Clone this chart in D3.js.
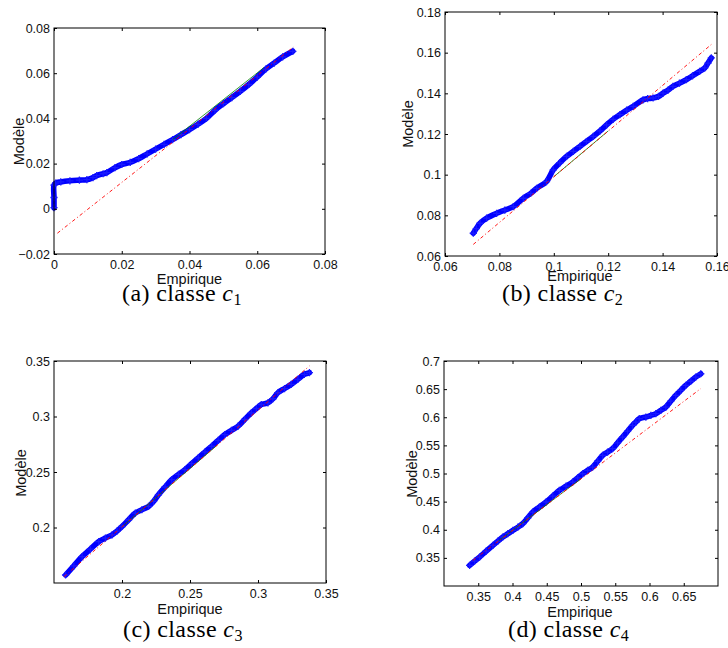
<!DOCTYPE html>
<html>
<head>
<meta charset="utf-8">
<script src="https://cdn.jsdelivr.net/npm/d3@7"></script>
<style>
  html, body { margin: 0; padding: 0; background: #fff; }
  svg { display: block; }
</style>
</head>
<body>
<script>
// ---------------- DATA ----------------
// Panel (a) classe c1
const empA = [0, 0, 0, 0.0005, 0.002, 0.0047, 0.0075, 0.0097, 0.0115, 0.0126, 0.0145, 0.0156, 0.018, 0.02, 0.0225, 0.025, 0.0275, 0.03, 0.0325, 0.035, 0.0375, 0.04, 0.0425, 0.045, 0.0475, 0.05, 0.0525, 0.055, 0.0575, 0.06, 0.0625, 0.065, 0.0675, 0.0705];
const modA = [0.0005, 0.005, 0.0105, 0.0114, 0.0119, 0.0124, 0.0127, 0.0129, 0.0138, 0.0147, 0.0155, 0.016, 0.0182, 0.0196, 0.0205, 0.0222, 0.0243, 0.0264, 0.0285, 0.0306, 0.0328, 0.035, 0.0374, 0.040, 0.0436, 0.0465, 0.0492, 0.052, 0.055, 0.0583, 0.0618, 0.0645, 0.0672, 0.0697];
const refXA = [0.001, 0.0707], refYA = [-0.0108, 0.0716];
const fitXA = [0.035, 0.062], fitYA = [0.0306, 0.0625];
const xTicksA = [0, 0.02, 0.04, 0.06, 0.08], xTickLabelsA = ["0", "0.02", "0.04", "0.06", "0.08"];
const yTicksA = [-0.02, 0, 0.02, 0.04, 0.06, 0.08], yTickLabelsA = ["\u22120.02", "0", "0.02", "0.04", "0.06", "0.08"];

// Panel (b) classe c2
const empB = [0.0704, 0.0715, 0.0729, 0.0753, 0.079, 0.082, 0.0851, 0.0888, 0.0915, 0.0937, 0.0973, 0.0998, 0.1022, 0.1047, 0.1072, 0.1096, 0.112, 0.1145, 0.117, 0.1194, 0.1218, 0.1243, 0.1268, 0.1292, 0.1328, 0.1345, 0.1365, 0.1385, 0.1402, 0.142, 0.1438, 0.1462, 0.1487, 0.151, 0.1536, 0.1555, 0.1567, 0.1579];
const modB = [0.0712, 0.0735, 0.0761, 0.0786, 0.081, 0.0826, 0.0843, 0.0884, 0.0908, 0.0933, 0.0966, 0.1024, 0.1058, 0.109, 0.1115, 0.1139, 0.1163, 0.1188, 0.1215, 0.1245, 0.1272, 0.1295, 0.1317, 0.1336, 0.1368, 0.1374, 0.1377, 0.1385, 0.1401, 0.1416, 0.1434, 0.145, 0.1467, 0.1486, 0.1508, 0.1525, 0.1549, 0.1574];
const refXB = [0.0704, 0.1579], refYB = [0.0657, 0.164];
const fitXB = [0.10, 0.12], fitYB = [0.0990, 0.1215];
const xTicksB = [0.06, 0.08, 0.1, 0.12, 0.14, 0.16], xTickLabelsB = ["0.06", "0.08", "0.1", "0.12", "0.14", "0.16"];
const yTicksB = [0.06, 0.08, 0.1, 0.12, 0.14, 0.16, 0.18], yTickLabelsB = ["0.06", "0.08", "0.1", "0.12", "0.14", "0.16", "0.18"];

// Panel (c) classe c3
const empC = [0.1585, 0.1646, 0.1707, 0.1768, 0.1829, 0.1878, 0.1927, 0.1963, 0.2, 0.2049, 0.2098, 0.2146, 0.2195, 0.2232, 0.2268, 0.2317, 0.2366, 0.2415, 0.2463, 0.2512, 0.2561, 0.261, 0.2659, 0.2707, 0.2756, 0.2805, 0.2854, 0.2902, 0.2951, 0.2988, 0.3024, 0.3073, 0.311, 0.3146, 0.3195, 0.3244, 0.3293, 0.3341, 0.3378];
const modC = [0.1572, 0.1655, 0.1738, 0.1806, 0.1873, 0.1905, 0.1934, 0.1968, 0.2009, 0.207, 0.213, 0.216, 0.219, 0.2235, 0.2295, 0.2365, 0.2431, 0.2478, 0.2521, 0.2575, 0.2627, 0.268, 0.2732, 0.2785, 0.2837, 0.2875, 0.2913, 0.2973, 0.3033, 0.3072, 0.3108, 0.3123, 0.316, 0.3214, 0.3252, 0.3289, 0.3335, 0.338, 0.3395];
const refXC = [0.1573, 0.3378], refYC = [0.1557, 0.3455];
const fitXC = [0.20, 0.27], fitYC = [0.2006, 0.2742];
const xTicksC = [0.2, 0.25, 0.3, 0.35], xTickLabelsC = ["0.2", "0.25", "0.3", "0.35"];
const yTicksC = [0.2, 0.25, 0.3, 0.35], yTickLabelsC = ["0.2", "0.25", "0.3", "0.35"];

// Panel (d) classe c4
const empD = [0.3374, 0.3446, 0.3519, 0.3616, 0.3714, 0.3786, 0.3859, 0.3932, 0.4005, 0.4078, 0.415, 0.4223, 0.4296, 0.4393, 0.449, 0.4587, 0.4684, 0.4782, 0.4879, 0.4952, 0.5024, 0.5097, 0.517, 0.5243, 0.5316, 0.5388, 0.5461, 0.5534, 0.5607, 0.568, 0.5752, 0.5801, 0.585, 0.5947, 0.602, 0.6092, 0.6165, 0.6238, 0.631, 0.6383, 0.6456, 0.6529, 0.6602, 0.6675, 0.6748];
const modD = [0.3367, 0.3441, 0.3515, 0.3619, 0.3723, 0.3797, 0.3871, 0.393, 0.3989, 0.4045, 0.4108, 0.421, 0.4315, 0.4404, 0.4493, 0.4597, 0.470, 0.4774, 0.4848, 0.4922, 0.4996, 0.5055, 0.5115, 0.5218, 0.5322, 0.538, 0.5441, 0.5545, 0.5648, 0.5752, 0.5856, 0.5915, 0.5974, 0.6004, 0.6033, 0.6063, 0.6122, 0.6181, 0.6285, 0.6389, 0.6478, 0.6566, 0.664, 0.6714, 0.6773];
const refXD = [0.3422, 0.6748], refYD = [0.3456, 0.6509];
const fitXD = [0.38, 0.50], fitYD = [0.3805, 0.4907];
const xTicksD = [0.35, 0.4, 0.45, 0.5, 0.55, 0.6, 0.65], xTickLabelsD = ["0.35", "0.4", "0.45", "0.5", "0.55", "0.6", "0.65"];
const yTicksD = [0.35, 0.4, 0.45, 0.5, 0.55, 0.6, 0.65, 0.7], yTickLabelsD = ["0.35", "0.4", "0.45", "0.5", "0.55", "0.6", "0.65", "0.7"];

const xLabel = "Empirique", yLabel = "Modèle";
const captionLetters = ["a", "b", "c", "d"];
const captionSubs = ["1", "2", "3", "4"];

// ---------------- DRAWING ----------------
const W = 728, H = 648;
const svg = d3.select("body").append("svg").attr("width", W).attr("height", H);
svg.append("rect").attr("width", W).attr("height", H).attr("fill", "#fff");

const panels = [
  { emp: empA, mod: modA, refX: refXA, refY: refYA, fitX: fitXA, fitY: fitYA,
    xDomain: [0, 0.08], yDomain: [-0.02, 0.08], xTicks: xTicksA, xLabels: xTickLabelsA, yTicks: yTicksA, yLabels: yTickLabelsA,
    box: [54, 325, 28, 254], xLab: [189.5, 283.5], yLab: [24, 141.5], cap: [122, 301], idx: 0 },
  { emp: empB, mod: modB, refX: refXB, refY: refYB, fitX: fitXB, fitY: fitYB,
    xDomain: [0.06, 0.16], yDomain: [0.06, 0.18], xTicks: xTicksB, xLabels: xTickLabelsB, yTicks: yTicksB, yLabels: yTickLabelsB,
    box: [445, 717, 12, 256], xLab: [580, 281], yLab: [413, 124], cap: [502, 301], idx: 1 },
  { emp: empC, mod: modC, refX: refXC, refY: refYC, fitX: fitXC, fitY: fitYC,
    xDomain: [0.15, 0.35], yDomain: [0.15, 0.35], xTicks: xTicksC, xLabels: xTickLabelsC, yTicks: yTicksC, yLabels: yTickLabelsC,
    box: [54, 326, 361, 583], xLab: [190, 613.5], yLab: [26, 473], cap: [123, 637], idx: 2 },
  { emp: empD, mod: modD, refX: refXD, refY: refYD, fitX: fitXD, fitY: fitYD,
    xDomain: [0.3, 0.7], yDomain: [0.3, 0.7], xTicks: xTicksD, xLabels: xTickLabelsD, yTicks: yTicksD, yLabels: yTickLabelsD,
    box: [444, 718, 361, 586], xLab: [580, 617], yLab: [416.5, 474], cap: [508, 637], idx: 3 }
];

const tickFont = "'Liberation Sans', Arial, Helvetica, sans-serif";
const serifFont = "'Liberation Serif', 'Times New Roman', serif";

panels.forEach(p => {
  const [L, R, T, B] = p.box;
  const x = d3.scaleLinear().domain(p.xDomain).range([L, R]);
  const y = d3.scaleLinear().domain(p.yDomain).range([B, T]);
  const g = svg.append("g");

  // data band (dense '+' markers in the original)
  const pts = p.emp.map((e, i) => [e, p.mod[i]]);
  const line = d3.line().x(d => x(d[0])).y(d => y(d[1])).curve(d3.curveCatmullRom.alpha(0.5));
  g.append("path").attr("d", line(pts)).attr("fill", "none")
    .attr("stroke", "#0000ff").attr("stroke-width", 5.6).attr("stroke-linecap", "round").attr("stroke-linejoin", "round");
  g.selectAll("path.mk").data(pts).enter().append("path").attr("class", "mk")
    .attr("transform", d => `translate(${x(d[0])},${y(d[1])})`)
    .attr("d", "M-3.6,0H3.6M0,-3.6V3.6")
    .attr("stroke", "#1a1aff").attr("stroke-width", 1.3).attr("fill", "none");

  // green fit segment (between quartiles)
  const lin = d3.line().x(d => x(d[0])).y(d => y(d[1]));
  g.append("path").attr("d", lin(p.fitX.map((v, i) => [v, p.fitY[i]])))
    .attr("stroke", "#008000").attr("stroke-width", 0.8).attr("fill", "none");
  // red dash-dot reference line
  g.append("path").attr("d", lin(p.refX.map((v, i) => [v, p.refY[i]])))
    .attr("stroke", "#ff0000").attr("stroke-width", 0.9).attr("fill", "none")
    .attr("stroke-dasharray", "3.5,2.5,1,2.5");

  // axes (ticks inward on all four sides)
  const fmtX = (d, i) => p.xLabels[i];
  const fmtY = (d, i) => p.yLabels[i];
  const ax = [
    g.append("g").attr("transform", `translate(0,${B})`).call(d3.axisBottom(x).tickValues(p.xTicks).tickFormat(fmtX).tickSizeInner(-3).tickSizeOuter(0).tickPadding(6)),
    g.append("g").attr("transform", `translate(${L},0)`).call(d3.axisLeft(y).tickValues(p.yTicks).tickFormat(fmtY).tickSizeInner(-3).tickSizeOuter(0).tickPadding(4)),
    g.append("g").attr("transform", `translate(0,${T})`).call(d3.axisTop(x).tickValues(p.xTicks).tickFormat("").tickSizeInner(-3).tickSizeOuter(0)),
    g.append("g").attr("transform", `translate(${R},0)`).call(d3.axisRight(y).tickValues(p.yTicks).tickFormat("").tickSizeInner(-3).tickSizeOuter(0))
  ];
  ax.forEach(a => {
    a.select(".domain").remove();
    a.selectAll("line").attr("stroke", "#000").attr("stroke-width", 1);
    a.selectAll("text").attr("font-family", tickFont).attr("font-size", 12.5).attr("fill", "#111");
  });
  ax[0].selectAll("text").attr("dy", "0.72em");
  g.append("rect").attr("x", L).attr("y", T).attr("width", R - L).attr("height", B - T)
    .attr("fill", "none").attr("stroke", "#000").attr("stroke-width", 1);

  // axis labels
  g.append("text").attr("x", p.xLab[0]).attr("y", p.xLab[1]).attr("text-anchor", "middle")
    .attr("font-family", tickFont).attr("font-size", 14.5).attr("fill", "#111").text(xLabel);
  g.append("text").attr("transform", `translate(${p.yLab[0]},${p.yLab[1]}) rotate(-90)`).attr("text-anchor", "middle")
    .attr("font-family", tickFont).attr("font-size", 14.5).attr("fill", "#111").text(yLabel);

  // caption
  const cap = g.append("text").attr("x", p.cap[0]).attr("y", p.cap[1])
    .attr("font-family", serifFont).attr("font-size", 24).attr("letter-spacing", 0.4).attr("fill", "#000");
  cap.append("tspan").text(`(${captionLetters[p.idx]}) classe `);
  cap.append("tspan").attr("font-style", "italic").text("c");
  cap.append("tspan").attr("font-size", 16).attr("dy", 4).text(captionSubs[p.idx]);
});
</script>
</body>
</html>
